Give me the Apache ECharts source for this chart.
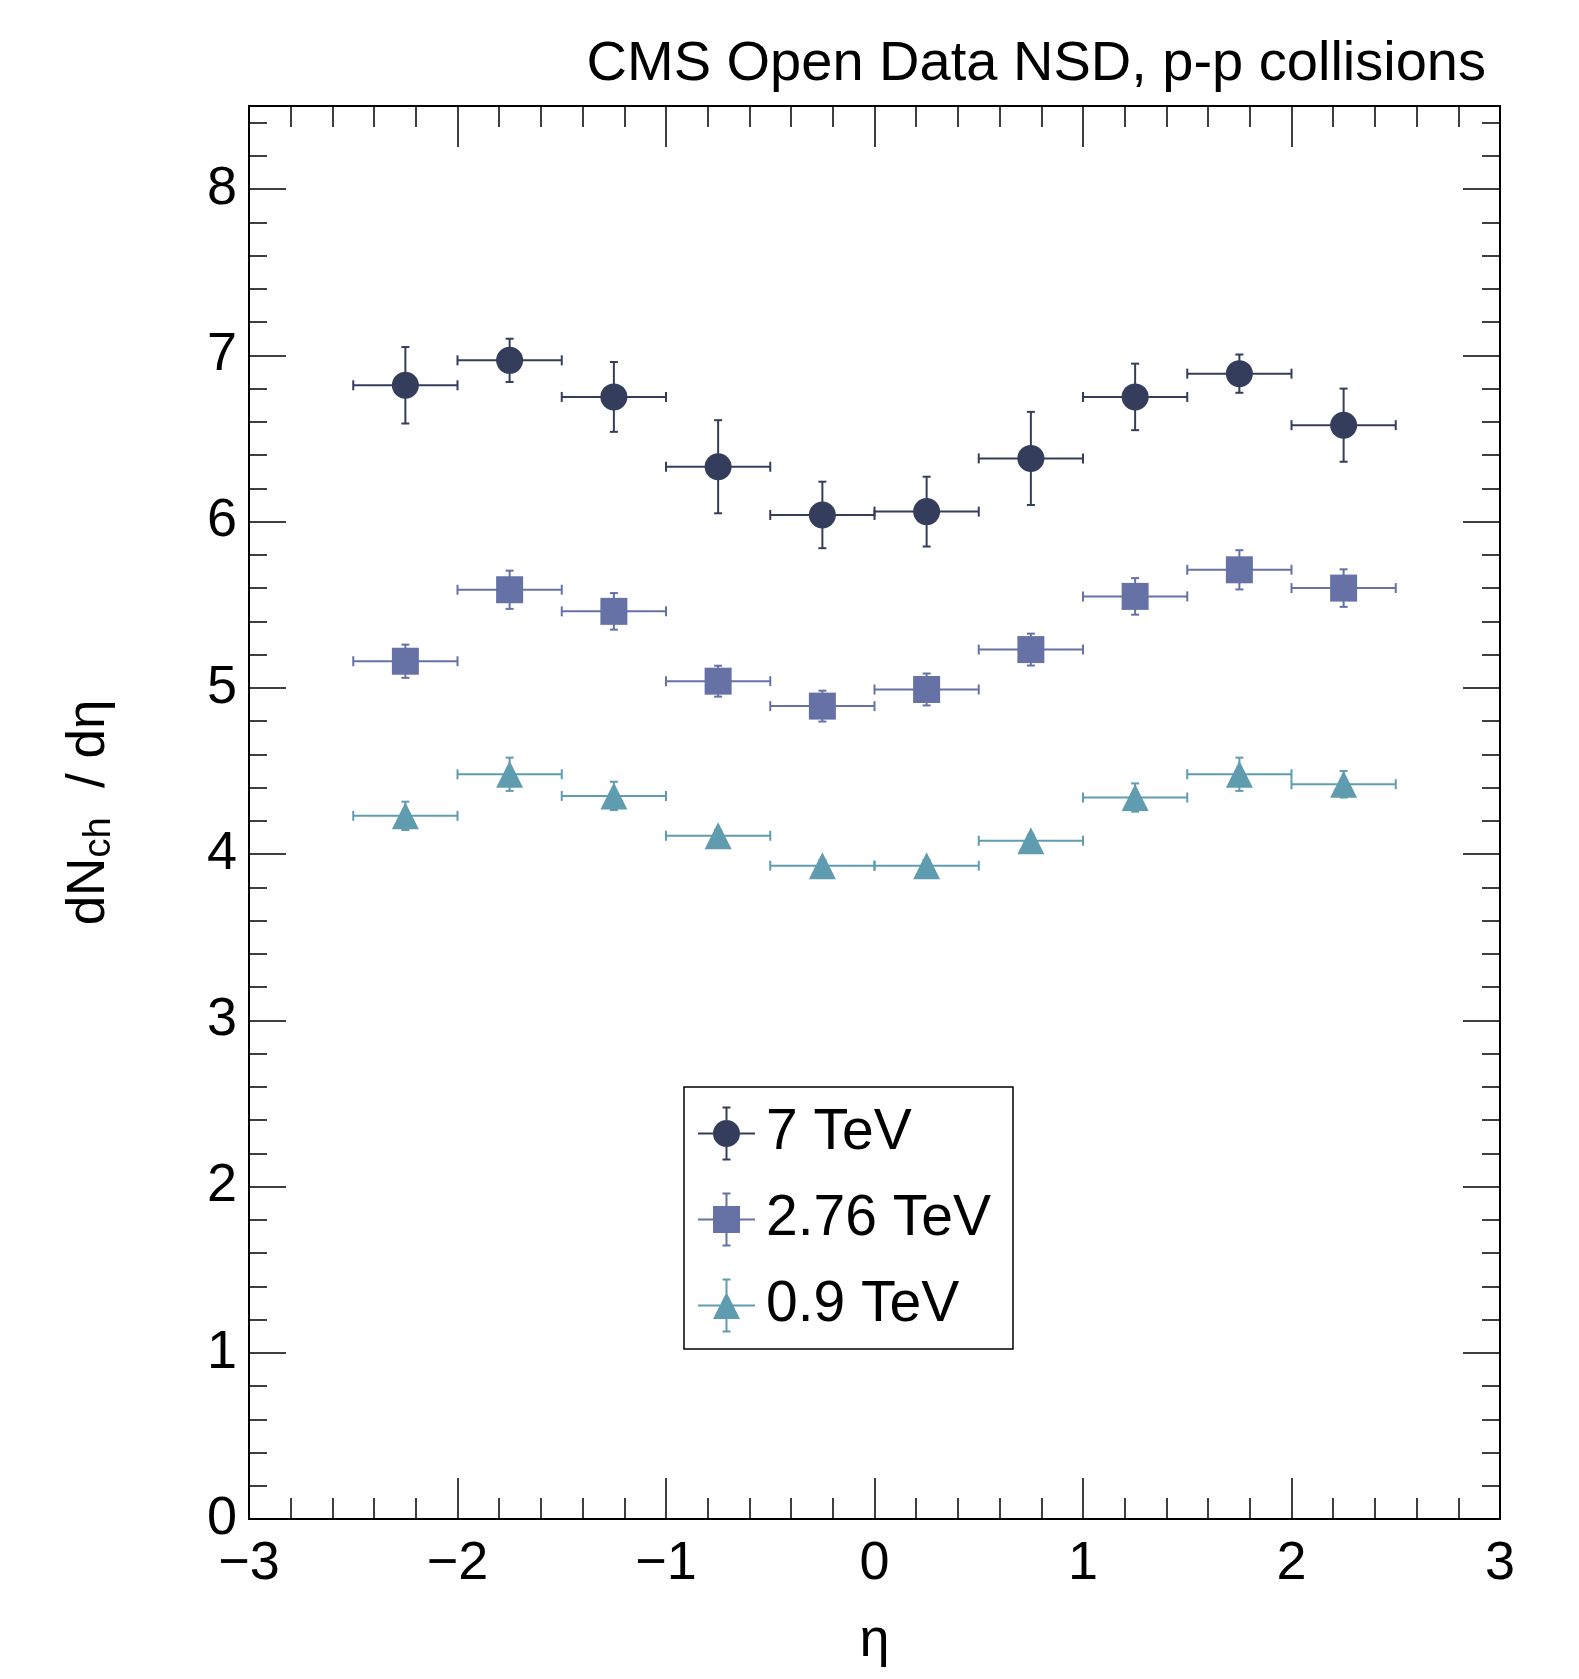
<!DOCTYPE html>
<html>
<head>
<meta charset="utf-8">
<script src="https://cdn.jsdelivr.net/npm/echarts@6/dist/echarts.min.js"></script>
<style>
  html, body { margin: 0; padding: 0; background: #fff; }
  #chart { width: 1579px; height: 1679px; }
</style>
</head>
<body>
<div id="chart"></div>
<script>
// eta bin centres, half width of each bin
var etaCenters = [-2.25, -1.75, -1.25, -0.75, -0.25, 0.25, 0.75, 1.25, 1.75, 2.25];
var etaHalfWidth = 0.25;

// dN/deta per energy, with vertical errors
var dndeta7 = [6.82, 6.97, 6.75, 6.33, 6.04, 6.06, 6.38, 6.75, 6.89, 6.58];
var err7 = [0.23, 0.13, 0.21, 0.28, 0.20, 0.21, 0.28, 0.20, 0.115, 0.22];
var dndeta276 = [5.16, 5.59, 5.46, 5.04, 4.89, 4.99, 5.23, 5.55, 5.71, 5.60];
var err276 = [0.10, 0.115, 0.11, 0.093, 0.093, 0.096, 0.096, 0.11, 0.118, 0.113];
var dndeta09 = [4.23, 4.48, 4.35, 4.11, 3.93, 3.93, 4.08, 4.34, 4.48, 4.42];
var err09 = [0.085, 0.10, 0.085, 0.035, 0.035, 0.035, 0.035, 0.085, 0.10, 0.08];

var seriesNames = ['7 TeV', '2.76 TeV', '0.9 TeV'];
var colors = ['#343d5b', '#6672a6', '#5f9caf'];
var symbols = ['circle', 'rect', 'triangle'];

var font = 'Liberation Sans, Arial, Helvetica, sans-serif';

function toPoints(vals, errs) {
  return etaCenters.map(function (x, i) { return [x, vals[i], errs[i]]; });
}

function renderErrors(params, api) {
  var x = api.value(0), y = api.value(1), e = api.value(2);
  var l = api.coord([x - etaHalfWidth, y]);
  var r = api.coord([x + etaHalfWidth, y]);
  var t = api.coord([x, y + e]);
  var b = api.coord([x, y - e]);
  var style = { stroke: api.visual('color'), lineWidth: 2 };
  var cap = 5, capW = 4;
  function ln(x1, y1, x2, y2) {
    return { type: 'line', shape: { x1: x1, y1: y1, x2: x2, y2: y2 }, style: style };
  }
  return {
    type: 'group',
    children: [
      ln(l[0], l[1], r[0], r[1]),
      ln(l[0], l[1] - cap, l[0], l[1] + cap),
      ln(r[0], r[1] - cap, r[0], r[1] + cap),
      ln(t[0], t[1], b[0], b[1]),
      ln(t[0] - capW, t[1], t[0] + capW, t[1]),
      ln(b[0] - capW, b[1], b[0] + capW, b[1])
    ]
  };
}

// legend icons: error cross plus marker, 57x54 box
var crossPath = 'M0 26 H57 V28 H0 Z M27.5 0 H29.5 V54 H27.5 Z M24.5 0 H32.5 V2 H24.5 Z M24.5 52 H32.5 V54 H24.5 Z ';
var legendIcons = [
  'path://' + crossPath + 'M15 27 A13.5 13.5 0 1 1 42 27 A13.5 13.5 0 1 1 15 27 Z',
  'path://' + crossPath + 'M15 13.5 H42 V40.5 H15 Z',
  'path://' + crossPath + 'M28.5 13.5 L42 40.5 L15 40.5 Z'
];

var allData = [toPoints(dndeta7, err7), toPoints(dndeta276, err276), toPoints(dndeta09, err09)];

var series = [];
seriesNames.forEach(function (name, i) {
  series.push({
    name: name,
    type: 'custom',
    renderItem: renderErrors,
    itemStyle: { color: colors[i] },
    data: allData[i],
    z: 2
  });
});
seriesNames.forEach(function (name, i) {
  series.push({
    name: name,
    type: 'scatter',
    symbol: symbols[i],
    symbolSize: 27,
    itemStyle: { color: colors[i], opacity: 1 },
    data: allData[i],
    z: 3
  });
});

var axisLine = { show: true, onZero: false, lineStyle: { color: '#000', width: 2 } };
var noLabel = { show: false };

function xAx(pos, interval, tickLen, labels) {
  return {
    type: 'value', position: pos, min: -3, max: 3, interval: interval,
    axisLine: axisLine,
    axisTick: { show: true, inside: true, length: tickLen, lineStyle: { color: '#000', width: 1.5 } },
    axisLabel: labels ? {
      show: true, fontFamily: font, fontSize: 54, color: '#000', margin: 18,
      formatter: function (v) { return String(v).replace('-', '\u2212'); }
    } : noLabel,
    splitLine: { show: false },
    name: labels ? 'η' : '',
    nameLocation: 'middle',
    nameGap: 95,
    nameTextStyle: { fontFamily: font, fontSize: 54, color: '#000' }
  };
}

function yAx(pos, interval, tickLen, labels) {
  return {
    type: 'value', position: pos, min: 0, max: 8.5, interval: interval,
    axisLine: axisLine,
    axisTick: { show: true, inside: true, length: tickLen, lineStyle: { color: '#000', width: 1.5 } },
    axisLabel: labels ? {
      show: true, fontFamily: font, fontSize: 54, color: '#000', margin: 12,
      showMaxLabel: false
    } : noLabel,
    splitLine: { show: false },
    name: labels ? '{a|dN}{s|ch}{a|  / dη}' : '',
    nameLocation: 'middle',
    nameGap: 130,
    nameTextStyle: {
      fontFamily: font, color: '#000',
      rich: {
        a: { fontFamily: font, fontSize: 53, lineHeight: 60, color: '#000' },
        s: { fontFamily: font, fontSize: 38, lineHeight: 30, verticalAlign: 'bottom', color: '#000' }
      }
    }
  };
}

var chart = echarts.init(document.getElementById('chart'));
chart.setOption({
  animation: false,
  backgroundColor: '#fff',
  title: {
    text: 'CMS Open Data NSD, p-p collisions',
    right: 88, top: 32,
    textStyle: { fontFamily: font, fontSize: 56, fontWeight: 'normal', color: '#000' }
  },
  grid: { left: 249, right: 79, top: 106, bottom: 160 },
  xAxis: [
    xAx('bottom', 1, 41, true),
    xAx('bottom', 0.2, 21, false),
    xAx('top', 1, 41, false),
    xAx('top', 0.2, 21, false)
  ],
  yAxis: [
    yAx('left', 1, 37, true),
    yAx('left', 0.2, 18, false),
    yAx('right', 1, 37, false),
    yAx('right', 0.2, 18, false)
  ],
  legend: {
    orient: 'vertical',
    left: 684, top: 1087,
    padding: [18, 22, 15, 14],
    borderColor: '#000', borderWidth: 1.5,
    itemWidth: 57, itemHeight: 54, itemGap: 29,
    selectedMode: false,
    textStyle: { fontFamily: font, fontSize: 57, color: '#000', lineHeight: 54, padding: [0, 0, 0, 6] },
    data: seriesNames.map(function (n, i) { return { name: n, icon: legendIcons[i] }; })
  },
  series: series
});
</script>
</body>
</html>
